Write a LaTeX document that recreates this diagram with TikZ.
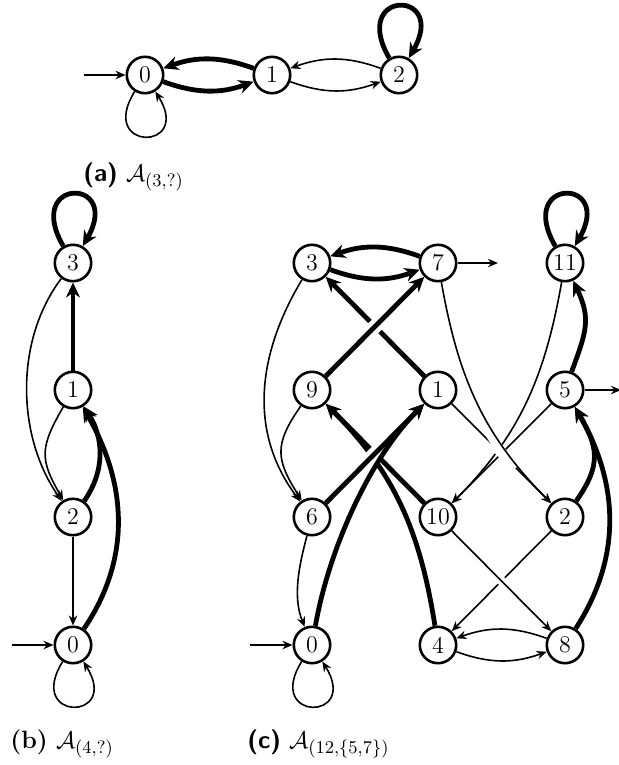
\documentclass[tikz,border=0pt]{standalone}
\usetikzlibrary{arrows.meta}
\begin{document}
\begin{tikzpicture}[x=0.5pt,y=-0.5pt,
  st/.style={circle,draw,line width=1.3pt,minimum size=18.2pt,inner sep=0pt,font=\fontsize{12}{14}\selectfont},
  tn/.style={line width=0.8pt,-{Stealth[length=5pt,width=4.2pt]}},
  tk/.style={line width=2.4pt,-{Stealth[length=7.5pt,width=7pt]}},
  hn/.style 2 args={preaction={draw=white,line width=4.5pt,-,shorten <=#1,shorten >=#2}},
  hk/.style 2 args={preaction={draw=white,line width=7pt,-,shorten <=#1,shorten >=#2}},
  captxt/.style={anchor=base west,inner sep=0pt,font=\fontsize{12.5}{15}\selectfont}]
\useasboundingbox (0,0) rectangle (619,765);

% ---------- (a)
\node[st] (a0) at (145,75) {0};
\node[st] (a1) at (272,75) {1};
\node[st] (a2) at (399,75) {2};
\coordinate (ain) at (84,75);
\draw[tn] (ain) -- (a0);
\draw[tk] (a0) to[bend right=20] (a1);
\draw[tk] (a1) to[bend right=20] (a0);
\draw[tn] (a1) to[bend right=20] (a2);
\draw[tn] (a2) to[bend right=20] (a1);
\draw[tn] (a0.-122) .. controls +(-122:35.5pt) and +(-58:35.5pt) .. (a0.-58);
\draw[tk] (a2.120) .. controls +(120:40pt) and +(60:40pt) .. (a2.60);
\node[captxt] (capa) at (83,181) {\textsf{\textbf{(a)}}~$\mathcal{A}_{(3,?)}$};

% ---------- (b)
\node[st] (b3) at (73,263) {3};
\node[st] (b1) at (73,390) {1};
\node[st] (b2) at (73,517) {2};
\node[st] (b0) at (73,645) {0};
\coordinate (bin) at (12,645);
\draw[tn] (bin) -- (b0);
\draw[tk] (b3.120) .. controls +(120:40pt) and +(60:40pt) .. (b3.60);
\draw[tk] (b1) -- (b3);
\draw[tn] (b3) to[out=-127,in=125,looseness=0.9] (b2);
\draw[tn] (b1) to[out=-120,in=120,looseness=1.3] (b2);
\draw[tk] (b2) to[out=55,in=-57] (b1);
\draw[tn] (b2) -- (b0);
\draw[tk] (b0) to[out=56,in=-60] (b1);
\draw[tn] (b0.-122) .. controls +(-122:35.5pt) and +(-58:35.5pt) .. (b0.-58);
\node[captxt] (capb) at (10,748) {\textbf{(b)}~$\mathcal{A}_{(4,?)}$};

% ---------- (c)
\node[st] (c3) at (312,263) {3};
\node[st] (c7) at (438,263) {7};
\node[st] (c11) at (565,263) {11};
\node[st] (c9) at (312,390) {9};
\node[st] (c1) at (438,390) {1};
\node[st] (c5) at (565,390) {5};
\node[st] (c6) at (312,517) {6};
\node[st] (c10) at (438,517) {10};
\node[st] (c2) at (565,517) {2};
\node[st] (c0) at (312,645) {0};
\node[st] (c4) at (438,645) {4};
\node[st] (c8) at (565,645) {8};
\coordinate (cin) at (250,645);
\coordinate (c7o) at (498,263);
\coordinate (c5o) at (621,390);

\draw[tn] (cin) -- (c0);
\draw[tk] (c3) to[bend right=20] (c7);
\draw[tk] (c7) to[bend right=20] (c3);
\draw[tn] (c7) -- (c7o);
\draw[tk] (c11.120) .. controls +(120:40pt) and +(60:40pt) .. (c11.60);
\draw[tk] (c5) to[out=70,in=-65,looseness=1.2] (c11);
\draw[tn] (c11) to[out=-100,in=45] (c10);
\draw[tn] (c5) -- (c10);
\draw[tn] (c5) -- (c5o);
\draw[tn] (c3) to[out=-121,in=127] (c6);
\draw[tn] (c9) to[out=-125,in=122,looseness=1.3] (c6);
\draw[tn] (c6) to[out=-105,in=112,looseness=0.9] (c0);
\draw[tk] (c1) -- (c3);
\draw[tk] (c10) -- (c9);
\draw[tk] (c4) to[out=99,in=-45] (c9);
\draw[tk] (c2) to[out=55,in=-60,looseness=1.24] (c5);
\draw[tk] (c8) to[out=57,in=-60] (c5);
\draw[tn] (c2) -- (c4);
\draw[tn] (c4) to[bend right=20] (c8);
\draw[tn] (c8) to[bend right=20] (c4);
\draw[tn] (c0.-122) .. controls +(-122:35.5pt) and +(-58:35.5pt) .. (c0.-58);
% edges drawn over others
\draw[tk,hk={14pt}{14pt}] (c9) -- (c7);
\draw[tk,hk={14pt}{14pt}] (c6) -- (c1);
\draw[tk] (c0) to[out=80,in=-135,looseness=0.8] (c1);
\draw[tn,hn={14pt}{28pt}] (c1) -- (c2);
\draw[tn,hn={14pt}{25pt}] (c7) to[out=-80,in=135] (c2);
\draw[tn,hn={14pt}{14pt}] (c10) -- (c8);
\node[captxt] (capc) at (247,748) {\textsf{\textbf{(c)}}~$\mathcal{A}_{(12,\{5,7\})}$};
\end{tikzpicture}
\end{document}
